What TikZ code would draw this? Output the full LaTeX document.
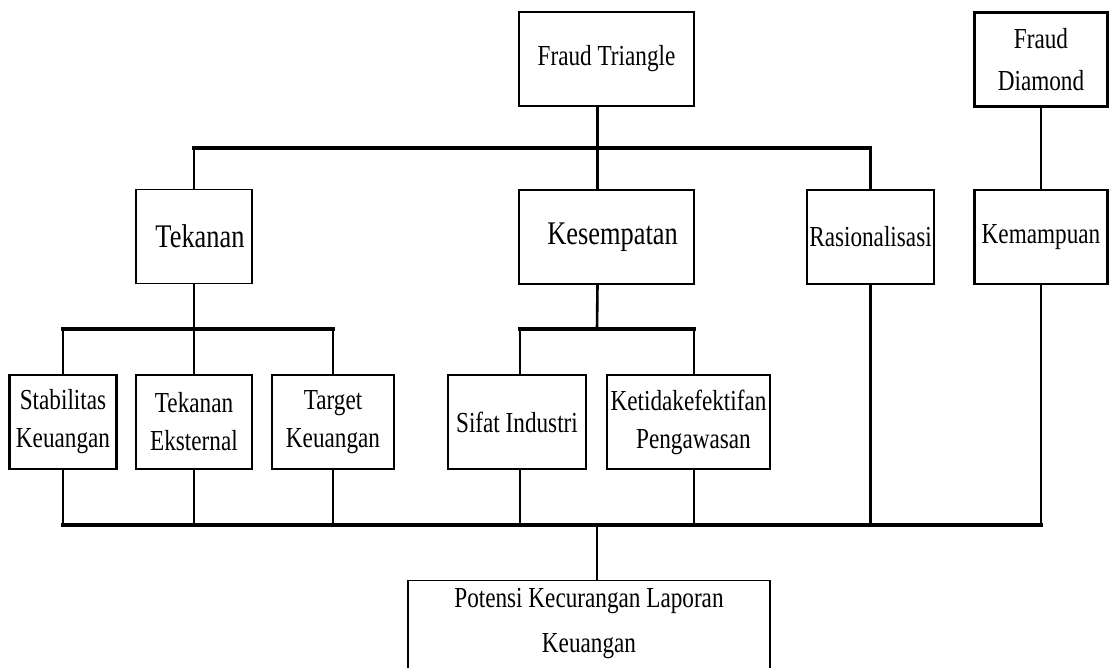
\documentclass[tikz,border=0pt]{standalone}
\usepackage{fontspec}
\setmainfont{Liberation Serif}[FakeStretch=0.8]
\tikzset{
  box/.style={
    draw,
    line width=1.2pt,
    rectangle,
    align=center,
    inner sep=1pt,
    minimum height=94pt,
    font=\fontsize{29}{38}\selectfont,
  },
  boldbox/.style={box, line width=2.8pt},
  bigtext/.style={font=\fontsize{33}{40}\selectfont},
  link/.style={line width=2.6pt, line cap=rect},
  bus/.style={line width=3.6pt, line cap=rect},
}

\begin{document}
\begin{tikzpicture}[x=1pt, y=1pt]
            \useasboundingbox (0,0) rectangle (1109,-668);
            \clip (0,0) rectangle (1109,-668);

            % Top level
            \node[box, minimum width=175pt] (ft) at (606.5,-59) {Fraud Triangle};
            \node[boldbox, minimum width=133pt, font=\fontsize{29}{42}\selectfont]
                  (fd) at (1041,-59.5) {Fraud\\Diamond};

            % Elements
            \node[box, bigtext, minimum width=116pt] (tek) at (194,-236.5) {\hspace{12pt}Tekanan};
            \node[box, bigtext, minimum width=175pt] (kes) at (606.5,-237) {\hspace{12pt}Kesempatan};
            \node[box, minimum width=127pt] (ras) at (870.5,-237) {Rasionalisasi};
            \node[boldbox, minimum width=133pt] (kem) at (1041,-237) {Kemampuan};

            % Proxies
            \node[boldbox, minimum width=107pt] (stab) at (63,-422) {Stabilitas\\Keuangan};
            \node[box, minimum width=116pt] (eks) at (194,-422) {Tekanan\\Eksternal};
            \node[box, minimum width=122pt] (tgt) at (333,-422) {Target\\Keuangan};
            \node[box, minimum width=138pt] (sif) at (517,-422) {Sifat Industri};
            \node[box, minimum width=163pt] (ket) at (688.5,-422) {Ketidakefektifan\\\hspace{10pt}Pengawasan};

            % Outcome
            \node[box, minimum width=362pt, minimum height=0pt, inner ysep=8pt, anchor=north,
                  font=\fontsize{29}{45}\selectfont] (pot) at (589,-580)
                  {Potensi Kecurangan Laporan\\Keuangan\rule[-25pt]{0pt}{1pt}};

            \coordinate (topbus) at (597,-148);
            \coordinate (tekbus) at (194,-329);
            \coordinate (kesbus) at (597,-329);
            \coordinate (botbus) at (597,-525);

            % Connectors
            \draw[link] ([xshift=-9pt]ft.south) -- ([xshift=-9pt]kes.north);
            \draw[link] (tek.north) -- (tek.north |- topbus);
            \draw[link] (ras.north) -- (ras.north |- topbus);
            \draw[bus] (tek.north |- topbus) -- (ras.north |- topbus);
            \draw[link] (fd) -- (kem);

            \draw[link] (tek) -- (eks);
            \foreach \n in {stab, tgt}
              \draw[link] (\n.north) -- (\n.north |- tekbus);
            \draw[bus] (stab.north |- tekbus) -- (tgt.north |- tekbus);

            \draw[link] ([xshift=-9pt]kes.south) -- (kesbus);
            \draw[link] ([xshift=3pt]sif.north) -- ([xshift=3pt]sif.north |- kesbus);
            \draw[link] ([xshift=5.5pt]ket.north) -- ([xshift=5.5pt]ket.north |- kesbus);
            \draw[bus] ([xshift=3pt]sif.north |- kesbus) -- ([xshift=5.5pt]ket.north |- kesbus);

            \foreach \n in {stab, eks, tgt, ras, kem}
              \draw[link] (\n.south) -- (\n.south |- botbus);
            \draw[link] ([xshift=3pt]sif.south) -- ([xshift=3pt]sif.south |- botbus);
            \draw[link] ([xshift=5.5pt]ket.south) -- ([xshift=5.5pt]ket.south |- botbus);
            \draw[bus] (stab.south |- botbus) -- (kem.south |- botbus);
            \draw[link] (botbus) -- (botbus |- pot.north);
          \end{tikzpicture}
\end{document}
